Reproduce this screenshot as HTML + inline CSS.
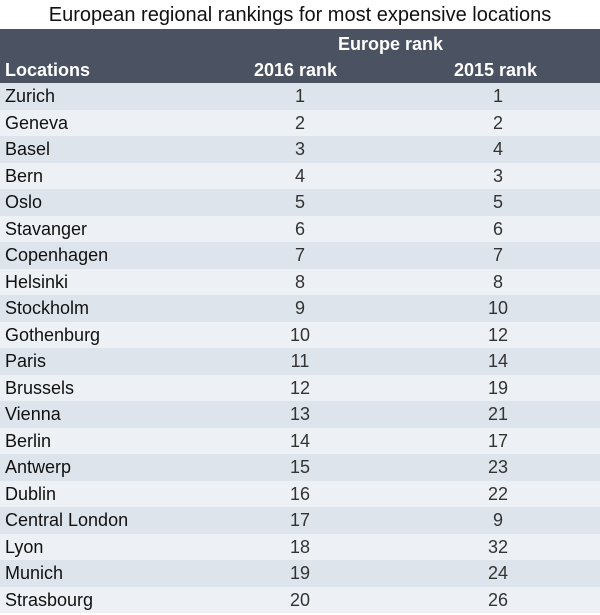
<!DOCTYPE html>
<html><head><meta charset="utf-8"><style>
body{margin:0;width:600px;height:615px;background:#fff;font-family:"Liberation Sans",sans-serif;overflow:hidden}
.title{position:absolute;left:0;top:0;width:600px;height:29px;line-height:31px;text-align:center;font-size:20px;color:#111}
.hdr{position:absolute;left:0;top:29px;width:600px;height:54px;background:#4b5261;color:#fff;font-weight:bold;font-size:18px}
.hdr span{position:absolute}
.row{position:absolute;left:0;width:600px;height:26.5px;line-height:27px;font-size:18px}
.row .loc{position:absolute;left:5px;color:#111}
.row .a{position:absolute;left:250px;width:100px;text-align:center;color:#333}
.row .b{position:absolute;left:448px;width:100px;text-align:center;color:#333}
</style></head><body>
<div class="title">European regional rankings for most expensive locations</div>
<div class="hdr">
<span style="left:338px;top:5px">Europe rank</span>
<span style="left:5px;top:31px">Locations</span>
<span style="left:254px;top:31px">2016 rank</span>
<span style="left:454px;top:31px">2015 rank</span>
</div>
<div id="rows"></div>
<script>
const locations=["Zurich","Geneva","Basel","Bern","Oslo","Stavanger","Copenhagen","Helsinki","Stockholm","Gothenburg","Paris","Brussels","Vienna","Berlin","Antwerp","Dublin","Central London","Lyon","Munich","Strasbourg"];
const rank2016=[1,2,3,4,5,6,7,8,9,10,11,12,13,14,15,16,17,18,19,20];
const rank2015=[1,2,4,3,5,6,7,8,10,12,14,19,21,17,23,22,9,32,24,26];
const c=document.getElementById('rows');
locations.forEach((l,i)=>{
 const r=document.createElement('div');
 r.className='row';
 r.style.top=(83+i*26.5)+'px';
 r.style.background=i%2===0?'#dde4ec':'#edf0f4';
 
 
 r.innerHTML='<span class="loc">'+l+'</span><span class="a">'+rank2016[i]+'</span><span class="b">'+rank2015[i]+'</span>';
 c.appendChild(r);
});
</script>
</body></html>
